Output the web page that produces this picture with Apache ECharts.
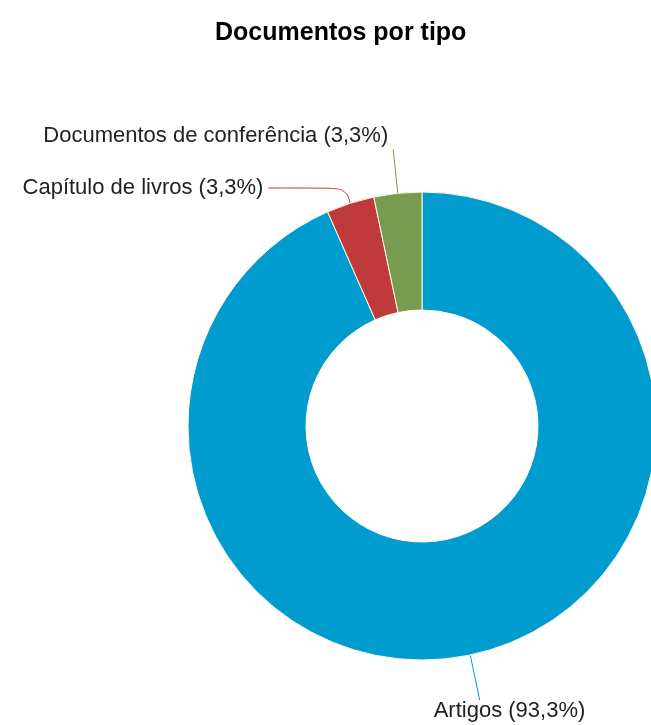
<!DOCTYPE html>
<html>
<head>
<meta charset="utf-8">
<script src="https://cdn.jsdelivr.net/npm/echarts@6/dist/echarts.min.js"></script>
<style>
  html, body { margin: 0; padding: 0; background: #fff; }
  #chart { width: 651px; height: 725px; }
</style>
</head>
<body>
<div id="chart"></div>
<script>
// Documentos por tipo (percentual)
const tipos = ['Artigos', 'Capítulo de livros', 'Documentos de conferência'];
const percentuais = [93.3, 3.3, 3.3];
const cores = ['#009ccf', '#c0393b', '#789b50'];

// comprimento das linhas de rótulo por fatia
const linhaLen = [46, 16, 44];
const linhaLen2 = [0, 77, 0];

const fonte = '"Liberation Sans", Arial, sans-serif';

const chart = echarts.init(document.getElementById('chart'));

const dados = tipos.map(function (nome, i) {
  return {
    name: nome,
    value: percentuais[i],
    itemStyle: { color: cores[i] },
    labelLine: { length: linhaLen[i], length2: linhaLen2[i], lineStyle: { color: cores[i] } }
  };
});

const option = {
  backgroundColor: '#fff',
  animation: false,
  title: {
    text: 'Documentos por tipo',
    left: 210,
    top: 16,
    textStyle: {
      fontFamily: fonte,
      fontSize: 25,
      fontWeight: 'bold',
      color: '#000'
    }
  },
  series: [{
    type: 'pie',
    center: [422, 426],
    radius: [116, 234],
    startAngle: 90,
    clockwise: true,
    avoidLabelOverlap: false,
    itemStyle: { borderColor: '#fffbe8', borderWidth: 1 },
    label: {
      show: true,
      position: 'outside',
      fontFamily: fonte,
      fontSize: 22,
      color: '#222',
      formatter: function (p) {
        return p.name + ' (' + p.value.toFixed(1).replace('.', ',') + '%)';
      }
    },
    labelLine: { show: true, smooth: 0.4, lineStyle: { width: 1 } },
    labelLayout: function (p) {
      // Artigos: texto abaixo da linha; conferência: texto acima da linha
      if (p.dataIndex === 0) return { dx: -51, dy: 11 };
      if (p.dataIndex === 2) return { dy: -14 };
      return {};
    },
    emphasis: { disabled: true },
    data: dados
  }]
};

chart.setOption(option);
</script>
</body>
</html>
